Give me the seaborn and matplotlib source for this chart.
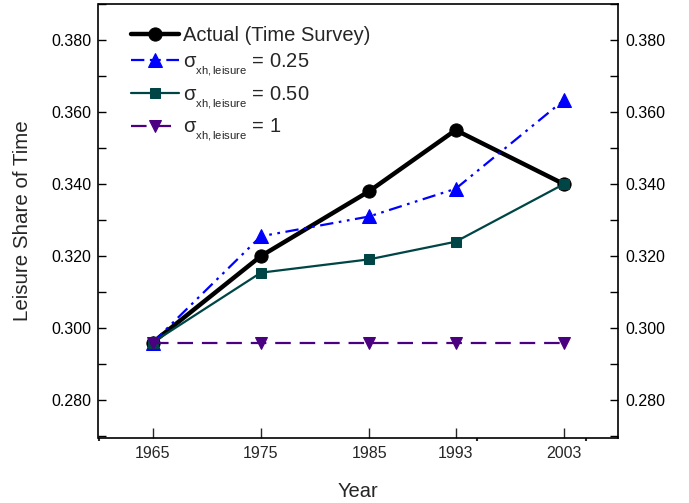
import matplotlib
matplotlib.use("Agg")
import matplotlib.pyplot as plt
import matplotlib._mathtext as _mt
import seaborn as sns
import numpy as np
from matplotlib.ticker import FixedLocator, FormatStrFormatter, MultipleLocator

years = [1965, 1975, 1985, 1993, 2003]
actual = [0.296, 0.320, 0.338, 0.355, 0.340]
sigma_025 = [0.296, 0.3255, 0.331, 0.3387, 0.3633]
sigma_050 = [0.296, 0.3154, 0.3191, 0.324, 0.340]
sigma_1 = [0.296, 0.296, 0.296, 0.296, 0.296]

labels = ["Actual (Time Survey)",
          r"σ$_{\mathrm{xh,leisure}}$ = 0.25",
          r"σ$_{\mathrm{xh,leisure}}$ = 0.50",
          r"σ$_{\mathrm{xh,leisure}}$ = 1"]

# smaller, lower subscripts, like the reference
_mt.SHRINK_FACTOR = 0.56
_mt.FontConstantsBase.subdrop = 0.65
_mt.FontConstantsBase.sub1 = 0.65

sns.set_style("ticks")
plt.rcParams['font.family'] = ['Liberation Sans', 'DejaVu Sans']
plt.rcParams['mathtext.fontset'] = 'custom'
plt.rcParams['mathtext.rm'] = 'Liberation Sans'
plt.rcParams['mathtext.it'] = 'Liberation Sans:italic'
plt.rcParams['mathtext.bf'] = 'Liberation Sans:bold'

fig = plt.figure(figsize=(6.89, 5.03), dpi=100)
ax = fig.add_axes([98.5/689, 1-438/503, (618-98.5)/689, (438-4)/503])

sns.lineplot(x=years, y=actual, ax=ax, color='black', lw=3.2, marker='o',
             markersize=9.5, markeredgecolor='black', label=labels[0])
sns.lineplot(x=years, y=sigma_025, ax=ax, color='#0000FF', lw=1.6,
             linestyle=(0, (6, 2.5, 1.2, 2.5, 1.2, 2.5)), marker='^',
             markersize=9.5, markeredgecolor='#0000FF', label=labels[1])
sns.lineplot(x=years, y=sigma_050, ax=ax, color='#004545', lw=1.6, marker='s',
             markersize=6.8, markeredgecolor='#004545', label=labels[2])
sns.lineplot(x=years, y=sigma_1, ax=ax, color='#4B0082', lw=1.6,
             linestyle=(0, (7, 4)), marker='v', markersize=8.5,
             markeredgecolor='#4B0082', label=labels[3])

ax.set_xlim(1960, 2008)
ax.set_ylim(0.2695, 0.390)
ax.xaxis.set_major_locator(FixedLocator(years))
ax.xaxis.set_minor_locator(FixedLocator([1960, 1995, 2005]))
ax.yaxis.set_major_locator(MultipleLocator(0.02))
ax.yaxis.set_minor_locator(MultipleLocator(0.01))
ax.yaxis.set_major_formatter(FormatStrFormatter('%.3f'))

for s in ax.spines.values():
    s.set_visible(True)
    s.set_linewidth(1.2)
    s.set_color('black')

ax.tick_params(axis='y', which='both', direction='in', left=True, right=True,
               labelleft=True, labelright=True, length=6, width=1, labelsize=11.5,
               pad=5, colors='black')
ax.tick_params(axis='x', which='major', direction='in', bottom=True, top=False,
               length=7, width=1, labelsize=11.5, pad=6)
ax.tick_params(axis='x', which='minor', direction='out', bottom=True, top=False,
               length=2, width=1.5)

ax.set_xlabel("Year", fontsize=14.5, labelpad=15)
ax.set_ylabel("Leisure Share of Time", fontsize=14.8, labelpad=14)

leg = ax.legend(loc='upper left', frameon=False, fontsize=14.5,
                handlelength=2.42, handletextpad=0.2, labelspacing=0.32,
                borderpad=0.0, borderaxespad=0.0,
                bbox_to_anchor=(0.062, 0.95))

fig.savefig("out.png", dpi=100)
